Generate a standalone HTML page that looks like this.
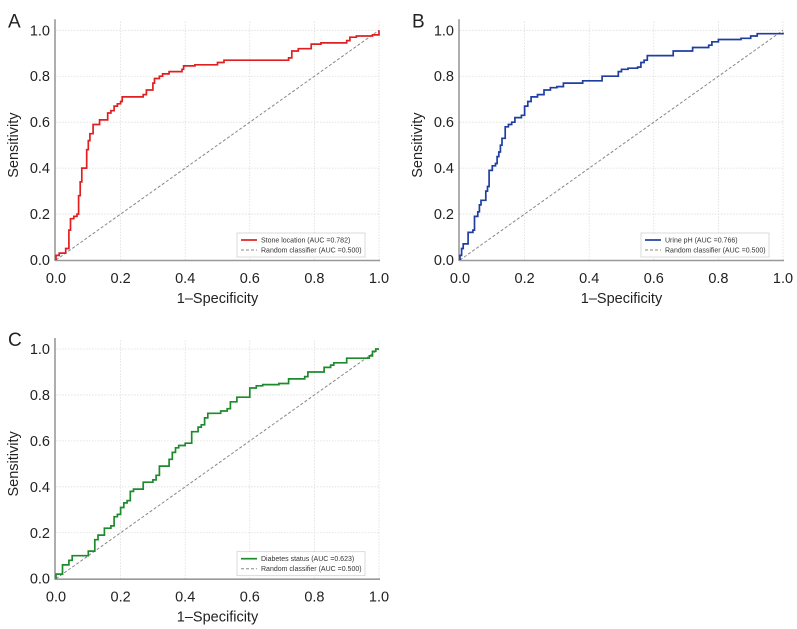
<!DOCTYPE html>
<html><head><meta charset="utf-8"><style>
html,body{margin:0;padding:0;background:#fff;}
svg{display:block;font-family:"Liberation Sans",Arial,sans-serif;}
</style></head><body>
<svg id="fig" width="797" height="629" viewBox="0 0 797 629" xmlns="http://www.w3.org/2000/svg"></svg>
<script>
const tickValues = [0, 0.2, 0.4, 0.6, 0.8, 1.0];
const tickLabels = ["0.0", "0.2", "0.4", "0.6", "0.8", "1.0"];
const fprA = [0,0,0.01,0.03,0.03,0.04,0.04,0.045,0.045,0.055,0.055,0.065,0.07,0.07,0.075,0.075,0.08,0.08,0.095,0.095,0.1,0.1,0.105,0.105,0.11,0.115,0.13,0.135,0.155,0.16,0.17,0.18,0.19,0.2,0.205,0.23,0.27,0.28,0.3,0.3,0.305,0.32,0.33,0.35,0.39,0.395,0.43,0.5,0.52,0.68,0.72,0.73,0.75,0.78,0.79,0.82,0.9,0.91,0.93,0.98,1];
const tprA = [0,0.02,0.03,0.03,0.05,0.05,0.13,0.13,0.18,0.18,0.19,0.2,0.21,0.28,0.28,0.34,0.34,0.4,0.4,0.48,0.48,0.52,0.53,0.55,0.55,0.59,0.59,0.61,0.61,0.64,0.65,0.67,0.68,0.69,0.71,0.71,0.72,0.74,0.75,0.77,0.79,0.8,0.81,0.82,0.83,0.845,0.85,0.86,0.87,0.87,0.88,0.91,0.92,0.92,0.94,0.945,0.955,0.97,0.975,0.98,1];
const fprB = [0,0,0.005,0.01,0.025,0.025,0.04,0.045,0.045,0.055,0.06,0.065,0.075,0.08,0.085,0.09,0.09,0.1,0.1,0.11,0.115,0.12,0.125,0.13,0.14,0.14,0.15,0.16,0.17,0.19,0.2,0.2,0.21,0.22,0.24,0.26,0.28,0.3,0.32,0.37,0.38,0.44,0.44,0.48,0.49,0.5,0.52,0.55,0.56,0.57,0.58,0.65,0.66,0.72,0.77,0.78,0.8,0.87,0.9,0.92,1];
const tprB = [0,0.02,0.05,0.07,0.07,0.12,0.13,0.15,0.19,0.21,0.24,0.26,0.26,0.3,0.32,0.32,0.39,0.39,0.41,0.42,0.45,0.47,0.5,0.53,0.53,0.58,0.59,0.6,0.62,0.63,0.64,0.67,0.69,0.71,0.72,0.74,0.75,0.755,0.77,0.77,0.78,0.79,0.8,0.8,0.82,0.83,0.835,0.84,0.86,0.87,0.89,0.89,0.91,0.925,0.935,0.95,0.96,0.965,0.975,0.985,0.99];
const fprC = [0,0,0.02,0.02,0.04,0.04,0.05,0.05,0.08,0.1,0.12,0.12,0.13,0.14,0.15,0.17,0.18,0.18,0.19,0.2,0.21,0.22,0.23,0.24,0.27,0.27,0.3,0.31,0.32,0.35,0.35,0.36,0.37,0.38,0.4,0.42,0.42,0.44,0.45,0.46,0.47,0.5,0.51,0.53,0.54,0.56,0.6,0.6,0.62,0.64,0.69,0.72,0.75,0.77,0.78,0.81,0.83,0.85,0.86,0.9,0.9,0.97,0.98,0.99,1];
const tprC = [0,0.02,0.03,0.06,0.06,0.08,0.08,0.1,0.1,0.12,0.14,0.17,0.19,0.19,0.22,0.23,0.25,0.27,0.28,0.31,0.33,0.34,0.38,0.39,0.4,0.42,0.43,0.45,0.49,0.5,0.52,0.55,0.57,0.58,0.59,0.61,0.64,0.66,0.67,0.7,0.72,0.72,0.73,0.74,0.77,0.79,0.79,0.83,0.84,0.845,0.85,0.87,0.87,0.88,0.9,0.9,0.92,0.93,0.94,0.95,0.96,0.97,0.99,1,1];

const NS = "http://www.w3.org/2000/svg";
const svg = document.getElementById('fig');
function mk(tag, attrs, parent, text){
  const e = document.createElementNS(NS, tag);
  for (const k in attrs) e.setAttribute(k, attrs[k]);
  if (text !== undefined) e.textContent = text;
  (parent || svg).appendChild(e);
  return e;
}
function panel(cfg){
  const g = mk('g', {});
  
  
  const sx = v => cfg.x0 + v * (cfg.x1 - cfg.x0);
  const sy = v => cfg.y0 - v * (cfg.y0 - cfg.y1);
  const L = mk('text', {x: cfg.x0 - 48, y: cfg.y1 - 3, 'font-size': 19, fill: '#222'}, g, cfg.letter);
  
  
  tickValues.forEach((t, i) => {
    if (i > 0) {
      const gv = mk('line', {x1: sx(t), x2: sx(t), y1: cfg.y0, y2: cfg.y1 - 10, stroke: '#ddd', 'stroke-width': 0.8, 'stroke-dasharray': '1.5,1.5'}, g);
      
      
      const gh = mk('line', {x1: cfg.x0, x2: cfg.x1 + 1, y1: sy(t), y2: sy(t), stroke: '#ddd', 'stroke-width': 0.8, 'stroke-dasharray': '1.5,1.5'}, g);
      
      
    }
    const xt = mk('text', {x: sx(t), y: cfg.y0 + 23, 'font-size': 14.5, fill: '#222', 'text-anchor': 'middle'}, g, tickLabels[i]);
    
    
    const yt = mk('text', {x: cfg.x0 - 6, y: sy(t) + 5, 'font-size': 14.5, fill: '#222', 'text-anchor': 'end'}, g, tickLabels[i]);
    
    
  });
  const ax = mk('line', {x1: cfg.x0 - 1, x2: cfg.x1 + 1, y1: cfg.y0 + 0.5, y2: cfg.y0 + 0.5, stroke: '#999', 'stroke-width': 1.6}, g);
  
  
  const ay = mk('line', {x1: cfg.x0 - 1, x2: cfg.x0 - 1, y1: cfg.y0 + 1, y2: cfg.y1 - 11, stroke: '#999', 'stroke-width': 1.6}, g);
  
  
  const xtitle = mk('text', {x: (cfg.x0 + cfg.x1) / 2, y: cfg.y0 + 43, 'font-size': 14.5, fill: '#222', 'text-anchor': 'middle'}, g, '1\u2013Specificity');
  
  
  const cy = (cfg.y0 + cfg.y1) / 2;
  const ytitle = mk('text', {x: cfg.x0 - 38, y: cy, 'font-size': 14.5, fill: '#222', 'text-anchor': 'middle', transform: `rotate(-90 ${cfg.x0 - 38} ${cy})`}, g, 'Sensitivity');
  
  
  const d = mk('line', {x1: sx(0), y1: sy(0), x2: sx(1), y2: sy(1), stroke: '#888', 'stroke-width': 1, 'stroke-dasharray': '3,2'}, g);
  
  
  // stepped ROC path
  let pts = [];
  cfg.fpr.forEach((f, i) => {
    if (i > 0) pts.push(sx(f).toFixed(1) + ',' + sy(cfg.tpr[i - 1]).toFixed(1));
    pts.push(sx(f).toFixed(1) + ',' + sy(cfg.tpr[i]).toFixed(1));
  });
  const roc = mk('polyline', {points: pts.join(' '), fill: 'none', stroke: cfg.color, 'stroke-width': 1.7, 'stroke-linejoin': 'miter'}, g);
  
  
  const lx = cfg.x1 - 142, ly = cfg.y0 - 27;
  const lg = mk('g', {}, g);
  
  
  mk('rect', {x: lx, y: ly, width: 128, height: 24, fill: '#fff', stroke: '#ccc', 'stroke-width': 0.7}, lg);
  mk('line', {x1: lx + 4, x2: lx + 20, y1: ly + 7, y2: ly + 7, stroke: cfg.color, 'stroke-width': 1.7}, lg);
  const t1 = mk('text', {x: lx + 24, y: ly + 9.5, 'font-size': 7, fill: '#333'}, lg, cfg.label);
  
  
  mk('line', {x1: lx + 4, x2: lx + 20, y1: ly + 17, y2: ly + 17, stroke: '#888', 'stroke-width': 1, 'stroke-dasharray': '3,2'}, lg);
  const t2 = mk('text', {x: lx + 24, y: ly + 19.5, 'font-size': 7, fill: '#333'}, lg, 'Random classifier (AUC =0.500)');
  
  
}
panel({letter: 'A', x0: 56, x1: 379, y0: 260, y1: 30.3, fpr: fprA, tpr: tprA, color: '#e02020', label: 'Stone location (AUC =0.782)'});
panel({letter: 'B', x0: 460, x1: 783, y0: 260, y1: 30.3, fpr: fprB, tpr: tprB, color: '#1f3fa0', label: 'Urine pH (AUC =0.766)'});
panel({letter: 'C', x0: 56, x1: 379, y0: 578.7, y1: 349, fpr: fprC, tpr: tprC, color: '#1e8a2e', label: 'Diabetes status (AUC =0.623)'});
</script>
</body></html>
